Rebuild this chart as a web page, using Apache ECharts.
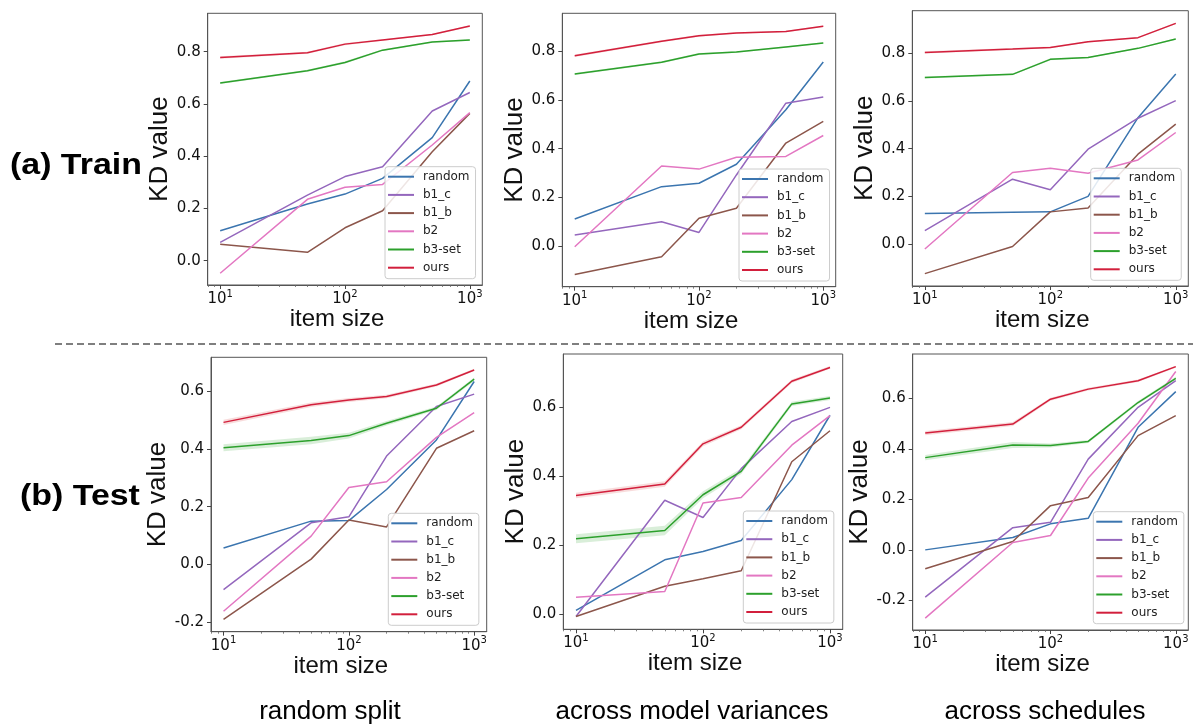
<!DOCTYPE html>
<html><head><meta charset="utf-8">
<script src="https://cdn.jsdelivr.net/npm/echarts@6/dist/echarts.min.js"></script>
<style>html,body{margin:0;padding:0;background:#fff}#c{width:1193px;height:727px}</style>
</head><body><div id="c"></div>
<script>
// ---------- data ----------
const itemSizes = [10, 50, 100, 200, 500, 1000];
const seriesNames = ['random', 'b1_c', 'b1_b', 'b2', 'b3-set', 'ours'];
const xTicks = [10, 100, 1000];
const xMinorTicks = [8, 9, 20, 30, 40, 50, 60, 70, 80, 90, 200, 300, 400, 500, 600, 700, 800, 900];

// rows: random, b1_c, b1_b, b2, b3-set, ours
const trainRandomSplit = [
  [0.115, 0.217, 0.255, 0.315, 0.471, 0.688],
  [0.070, 0.251, 0.322, 0.360, 0.573, 0.644],
  [0.063, 0.032, 0.126, 0.191, 0.417, 0.564],
  [-0.048, 0.235, 0.281, 0.292, 0.443, 0.567],
  [0.680, 0.727, 0.759, 0.806, 0.837, 0.845],
  [0.778, 0.796, 0.829, 0.845, 0.866, 0.898]
];
const trainModelVariances = [
  [0.111, 0.244, 0.258, 0.336, 0.560, 0.756],
  [0.045, 0.100, 0.056, 0.292, 0.587, 0.612],
  [-0.117, -0.044, 0.114, 0.155, 0.423, 0.512],
  [-0.003, 0.329, 0.316, 0.365, 0.368, 0.454],
  [0.707, 0.755, 0.789, 0.797, 0.818, 0.834],
  [0.782, 0.841, 0.864, 0.875, 0.881, 0.903]
];
const trainSchedules = [
  [0.128, 0.133, 0.135, 0.200, 0.530, 0.713],
  [0.056, 0.272, 0.228, 0.398, 0.528, 0.602],
  [-0.124, -0.010, 0.135, 0.151, 0.377, 0.503],
  [-0.021, 0.300, 0.318, 0.297, 0.353, 0.468],
  [0.699, 0.712, 0.775, 0.783, 0.821, 0.860],
  [0.804, 0.818, 0.825, 0.849, 0.866, 0.926]
];
const testRandomSplit = [
  [0.057, 0.150, 0.152, 0.260, 0.432, 0.635],
  [-0.088, 0.144, 0.165, 0.376, 0.548, 0.591],
  [-0.191, 0.018, 0.154, 0.130, 0.403, 0.464],
  [-0.163, 0.098, 0.267, 0.287, 0.441, 0.527],
  [0.405, 0.430, 0.447, 0.490, 0.542, 0.643],
  [0.493, 0.554, 0.571, 0.583, 0.623, 0.675]
];
const testModelVariances = [
  [0.010, 0.157, 0.181, 0.213, 0.390, 0.577],
  [-0.008, 0.330, 0.280, 0.422, 0.559, 0.600],
  [-0.008, 0.080, 0.102, 0.125, 0.442, 0.532],
  [0.048, 0.065, 0.322, 0.338, 0.490, 0.576],
  [0.218, 0.242, 0.346, 0.414, 0.610, 0.627],
  [0.344, 0.377, 0.494, 0.542, 0.676, 0.716]
];
const testSchedules = [
  [0.000, 0.049, 0.103, 0.125, 0.485, 0.626],
  [-0.187, 0.088, 0.109, 0.359, 0.564, 0.670],
  [-0.075, 0.033, 0.175, 0.207, 0.452, 0.531],
  [-0.270, 0.029, 0.057, 0.284, 0.501, 0.706],
  [0.365, 0.415, 0.413, 0.429, 0.583, 0.679],
  [0.462, 0.498, 0.596, 0.636, 0.669, 0.725]
];
// confidence-band half widths for b3-set and ours
const trainBandGreen = [0.004, 0.004, 0.004, 0.003, 0.003, 0.003];
const trainBandRed = [0.005, 0.004, 0.004, 0.003, 0.003, 0.003];
const testRandomBandGreen = [0.012, 0.013, 0.010, 0.008, 0.006, 0.006];
const testRandomBandRed = [0.009, 0.008, 0.007, 0.006, 0.005, 0.004];
const testVarBandGreen = [0.013, 0.014, 0.010, 0.008, 0.006, 0.006];
const testVarBandRed = [0.008, 0.008, 0.007, 0.006, 0.005, 0.004];
const testSchedBandGreen = [0.010, 0.012, 0.008, 0.006, 0.006, 0.006];
const testSchedBandRed = [0.008, 0.008, 0.006, 0.005, 0.005, 0.004];

const yTicksTrain = [0.0, 0.2, 0.4, 0.6, 0.8];
const yTicksTestA = [-0.2, 0.0, 0.2, 0.4, 0.6];
const yTicksTestB = [0.0, 0.2, 0.4, 0.6];
const yRanges = [[-0.093, 0.947], [-0.167, 0.956], [-0.176, 0.979], [-0.234, 0.719], [-0.045, 0.755], [-0.317, 0.775]];

const rowLabels = ['(a) Train', '(b) Test'];
const colLabels = ['random split', 'across model variances', 'across schedules'];

// ---------- styling / layout ----------
const colors = ['#3b75af', '#9467bd', '#8c564b', '#e377c2', '#2ca02c', '#d21f3c'];
const bandColors = {green: 'rgba(44,160,44,0.18)', red: 'rgba(214,39,40,0.16)'};
const grids = [
  {left: 207.7, top: 13.3, width: 274.6, height: 271.7},
  {left: 562.3, top: 13.3, width: 273.4, height: 273.4},
  {left: 912.3, top: 10.7, width: 276.0, height: 275.3},
  {left: 211.0, top: 357.3, width: 275.7, height: 274.4},
  {left: 563.3, top: 354.0, width: 279.4, height: 275.3},
  {left: 912.7, top: 354.0, width: 275.6, height: 276.0}
];
const legendPos = [[385, 166.7], [739, 169], [1090.7, 168.3], [388.3, 513.3], [743.3, 511], [1093.3, 511.7]];

const panels = [
  {data: trainRandomSplit, g: trainBandGreen, r: trainBandRed, yTicks: yTicksTrain},
  {data: trainModelVariances, g: trainBandGreen, r: trainBandRed, yTicks: yTicksTrain},
  {data: trainSchedules, g: trainBandGreen, r: trainBandRed, yTicks: yTicksTrain},
  {data: testRandomSplit, g: testRandomBandGreen, r: testRandomBandRed, yTicks: yTicksTestA},
  {data: testModelVariances, g: testVarBandGreen, r: testVarBandRed, yTicks: yTicksTestB},
  {data: testSchedules, g: testSchedBandGreen, r: testSchedBandRed, yTicks: yTicksTestA}
];

const tickFont = 'DejaVu Sans';
const titleFont = 'Liberation Sans';
const frameColor = '#555';

const option = {
  animation: false,
  backgroundColor: '#fff',
  grid: [], xAxis: [], yAxis: [], series: [], legend: [],
  graphic: []
};

function bandSeries(xi, yi, mid, h, color) {
  return {
    type: 'custom', xAxisIndex: xi, yAxisIndex: yi, silent: true, z: 1,
    data: itemSizes.map((x, j) => [x, mid[j] - h[j], mid[j] + h[j]]),
    encode: {x: 0, y: [1, 2]},
    renderItem: (params, api) => {
      if (params.dataIndex !== 0) return null;
      const up = itemSizes.map((x, j) => api.coord([x, mid[j] + h[j]]));
      const lo = itemSizes.map((x, j) => api.coord([x, mid[j] - h[j]])).reverse();
      return {type: 'polygon', shape: {points: up.concat(lo)}, style: {fill: color}};
    }
  };
}

panels.forEach((p, i) => {
  option.grid.push(Object.assign({show: true, borderColor: frameColor, borderWidth: 1, backgroundColor: '#fff', containLabel: false}, grids[i]));
  option.xAxis.push({
    type: 'log', logBase: 10, gridIndex: i, min: Math.pow(10, 0.9), max: Math.pow(10, 3.1),
    position: 'bottom',
    name: 'item size', nameLocation: 'middle', nameGap: 21,
    nameTextStyle: {fontFamily: titleFont, fontSize: 24, color: '#111', padding: [0, 16, 0, 0]},
    axisLine: {show: true, onZero: false, lineStyle: {color: frameColor, width: 1}},
    axisTick: {show: true, inside: false, length: 4, lineStyle: {color: '#444', width: 1}, customValues: xTicks},
    axisLabel: {
      customValues: xTicks, margin: 4, color: '#111', fontFamily: tickFont,
      formatter: v => '{a|10}{b|' + Math.round(Math.log10(v)) + '}',
      rich: {a: {fontSize: 15, lineHeight: 20, fontFamily: tickFont, color: '#111'},
             b: {fontSize: 10, verticalAlign: 'top', fontFamily: tickFont, color: '#111'}}
    },
    splitLine: {show: false}, minorTick: {show: false}
  });
  option.xAxis.push({
    type: 'log', logBase: 10, gridIndex: i, min: Math.pow(10, 0.9), max: Math.pow(10, 3.1),
    position: 'bottom',
    axisLine: {show: false, onZero: false},
    axisTick: {show: true, inside: false, length: 2, lineStyle: {color: '#666', width: 0.8}, customValues: xMinorTicks},
    axisLabel: {show: false}, splitLine: {show: false}
  });
  option.yAxis.push({
    type: 'value', gridIndex: i, min: yRanges[i][0], max: yRanges[i][1],
    name: 'KD value', nameLocation: 'middle', nameGap: 33,
    nameTextStyle: {fontFamily: titleFont, fontSize: 26, color: '#111'},
    axisLine: {show: true, onZero: false, lineStyle: {color: frameColor, width: 1}},
    axisTick: {show: true, inside: false, length: 4, lineStyle: {color: '#444', width: 1}, customValues: p.yTicks},
    axisLabel: {customValues: p.yTicks, margin: 7, fontSize: 15, fontFamily: tickFont, color: '#111',
      formatter: v => v.toFixed(1)},
    splitLine: {show: false}
  });
  const xi = i * 2;
  option.series.push(bandSeries(xi, i, p.data[4], p.g, bandColors.green));
  option.series.push(bandSeries(xi, i, p.data[5], p.r, bandColors.red));
  seriesNames.forEach((n, k) => {
    option.series.push({
      type: 'line', name: n, xAxisIndex: xi, yAxisIndex: i, symbol: 'none', showSymbol: false,
      color: colors[k], lineStyle: {color: colors[k], width: 1.5},
      data: itemSizes.map((x, j) => [x, p.data[k][j]]), z: 2
    });
  });
  option.legend.push({
    data: seriesNames, orient: 'vertical', left: legendPos[i][0], top: legendPos[i][1],
    icon: 'rect', itemWidth: 26, itemHeight: 2, itemGap: 4.2, padding: [3, 6, 4, 3],
    backgroundColor: 'rgba(255,255,255,0.85)', borderColor: '#ccc', borderWidth: 1, borderRadius: 3,
    textStyle: {fontFamily: tickFont, fontSize: 12, lineHeight: 14, color: '#222', padding: [0, 0, 0, 4]},
    selectedMode: false
  });
});

option.graphic.push({
  type: 'line', shape: {x1: 55, y1: 344, x2: 1193, y2: 344},
  style: {stroke: '#555', lineWidth: 1.5, lineDash: [7, 4]}, silent: true
});
option.graphic.push({type: 'text', x: 10, y: 166, scaleX: 1.13,
  style: {text: rowLabels[0], font: 'bold 30px "Liberation Sans"', fill: '#000', verticalAlign: 'middle'}});
option.graphic.push({type: 'text', x: 20, y: 497, scaleX: 1.13,
  style: {text: rowLabels[1], font: 'bold 30px "Liberation Sans"', fill: '#000', verticalAlign: 'middle'}});
const colCenters = [330, 692, 1045];
colLabels.forEach((t, i) => {
  option.graphic.push({type: 'text', x: colCenters[i], y: 712,
    style: {text: t, font: '26px "Liberation Sans"', fill: '#000', align: 'center', verticalAlign: 'middle'}});
});

const chart = echarts.init(document.getElementById('c'), null, {renderer: 'canvas'});
chart.setOption(option);
</script></body></html>
